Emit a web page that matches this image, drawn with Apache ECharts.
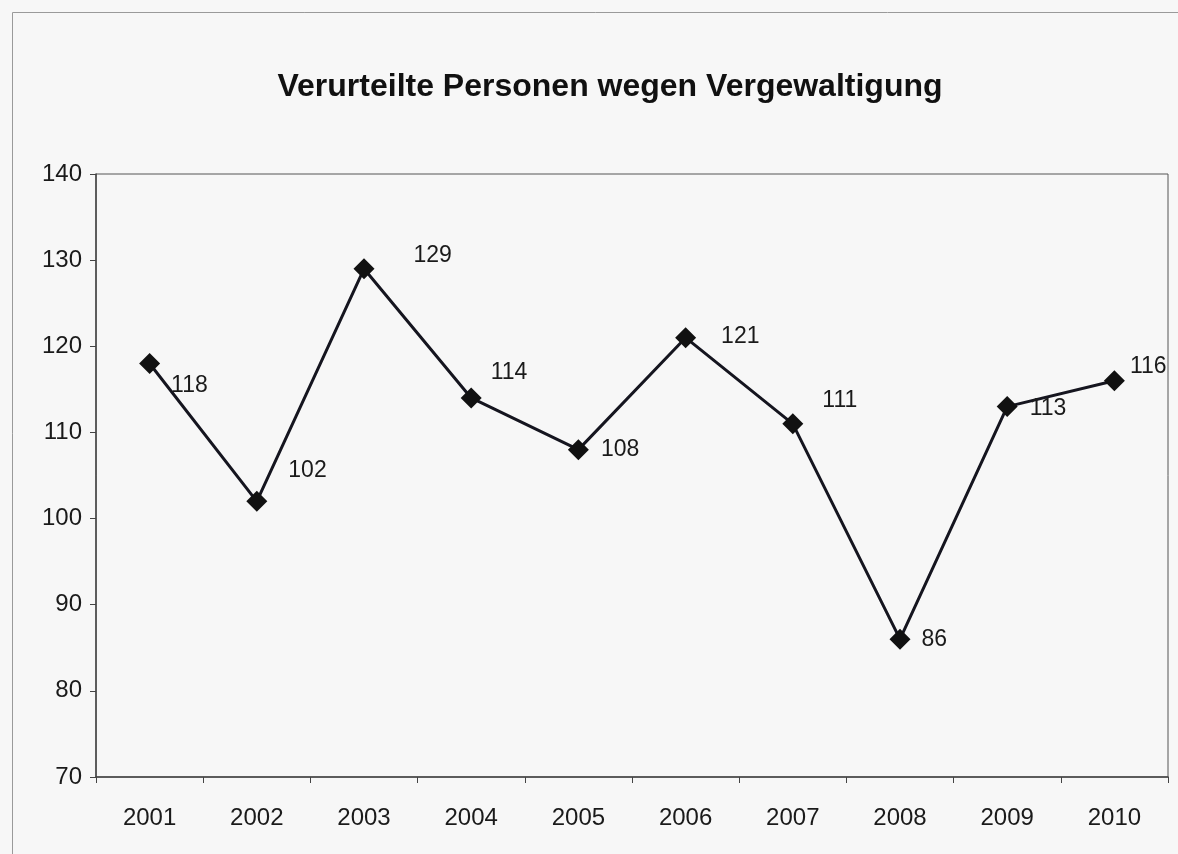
<!DOCTYPE html>
<html>
<head>
<meta charset="utf-8">
<script src="https://cdn.jsdelivr.net/npm/echarts@6/dist/echarts.min.js"></script>
<style>
html, body { margin: 0; padding: 0; background: #f7f7f7; }
#chart { width: 1178px; height: 854px; }
</style>
</head>
<body>
<div id="chart"></div>
<script>
var years = ['2001', '2002', '2003', '2004', '2005', '2006', '2007', '2008', '2009', '2010'];
var convicted = [118, 102, 129, 114, 108, 121, 111, 86, 113, 116];
// Verschiebung der Beschriftungen wie im Original
var labelOffsets = [[11, 22], [21, -31], [39, -13], [9, -25], [12, 0], [25, -1], [19, -23], [11, 0], [12, 2], [5, -14]];

var chart = echarts.init(document.getElementById('chart'));
var seriesData = convicted.map(function(v, i) {
    return {
        value: v,
        label: { offset: labelOffsets[i] }
    };
});
var option = {
    backgroundColor: '#f7f7f7',
    animation: false,
    title: {
        text: 'Verurteilte Personen wegen Vergewaltigung',
        left: 605,
        textAlign: 'center',
        top: 66,
        textStyle: {
            fontFamily: 'Liberation Sans',
            fontSize: 32,
            fontWeight: 'bold',
            color: '#111'
        }
    },
    graphic: [{
        type: 'rect',
        shape: { x: 12.5, y: 12.5, width: 1180, height: 860 },
        style: { fill: null, stroke: '#9a9a9a', lineWidth: 1 },
        silent: true
    }],
    grid: {
        left: 96,
        top: 174,
        right: 10,
        bottom: 77,
        show: true,
        borderColor: '#555',
        borderWidth: 1,
        backgroundColor: 'transparent'
    },
    xAxis: {
        type: 'category',
        data: years,
        boundaryGap: true,
        axisLine: { lineStyle: { color: '#444', width: 1.5 } },
        axisTick: { show: true, inside: false, length: 6, lineStyle: { color: '#444' } },
        axisLabel: {
            fontFamily: 'Liberation Sans',
            fontSize: 24,
            color: '#1a1a1a',
            margin: 29
        }
    },
    yAxis: {
        type: 'value',
        min: 70,
        max: 140,
        interval: 10,
        splitLine: { show: false },
        axisLine: { show: true, lineStyle: { color: '#444', width: 1.5 } },
        axisTick: { show: true, length: 6, lineStyle: { color: '#444' } },
        axisLabel: {
            fontFamily: 'Liberation Sans',
            fontSize: 24,
            color: '#1a1a1a',
            margin: 14
        }
    },
    series: [{
        type: 'line',
        data: seriesData,
        symbol: 'diamond',
        symbolSize: 21,
        lineStyle: { color: '#15151f', width: 3 },
        itemStyle: { color: '#111' },
        label: {
            show: true,
            position: 'right',
            distance: 0,
            fontFamily: 'Liberation Sans',
            fontSize: 23,
            color: '#1a1a1a'
        }
    }]
};
chart.setOption(option);
</script>
</body>
</html>
